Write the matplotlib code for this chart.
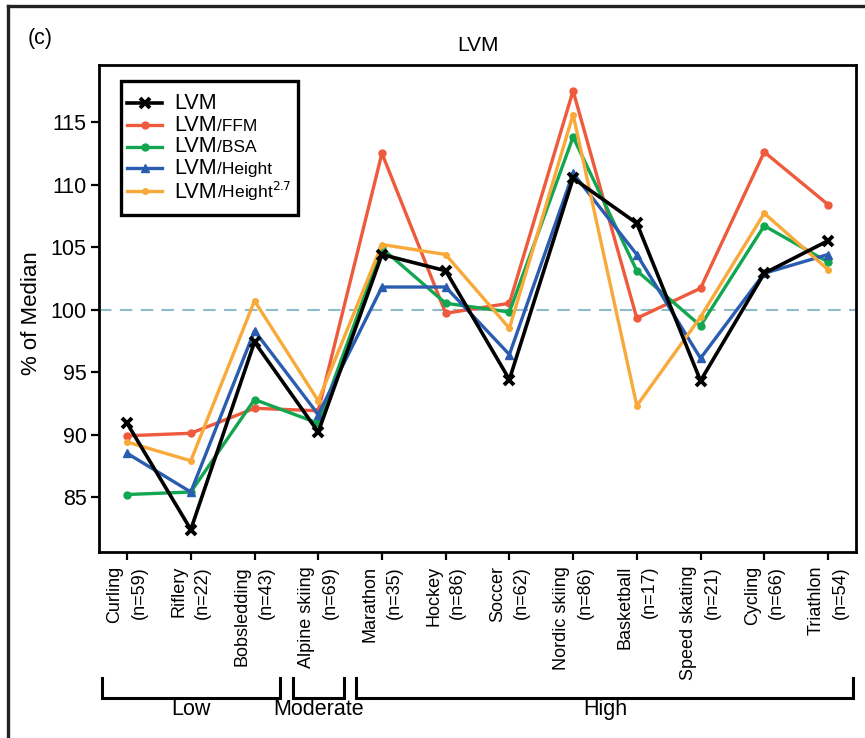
import numpy as np
import matplotlib
matplotlib.use("Agg")
import matplotlib.pyplot as plt
import matplotlib.transforms as mtransforms
from matplotlib.lines import Line2D
from matplotlib.offsetbox import AnchoredOffsetbox, HPacker, VPacker, TextArea, DrawingArea

plt.rcParams['font.family'] = ['Liberation Sans', 'DejaVu Sans']

# sports and sample sizes
sports = ["Curling", "Riflery", "Bobsledding", "Alpine skiing", "Marathon", "Hockey",
          "Soccer", "Nordic skiing", "Basketball", "Speed skating", "Cycling", "Triathlon"]
n_sizes = [59, 22, 43, 69, 35, 86, 62, 86, 17, 21, 66, 54]

# dynamic component groups
groups = ["Low", "Moderate", "High"]
group_counts = [3, 1, 8]

# % of median
lvm = [90.9, 82.4, 97.4, 90.2, 104.4, 103.1, 94.4, 110.5, 106.9, 94.3, 102.9, 105.5]
lvm_ffm = [89.9, 90.1, 92.1, 91.9, 112.5, 99.7, 100.5, 117.5, 99.3, 101.7, 112.6, 108.4]
lvm_bsa = [85.2, 85.4, 92.8, 90.9, 104.9, 100.5, 99.8, 113.8, 103.1, 98.7, 106.7, 103.8]
lvm_height = [88.5, 85.4, 98.3, 91.6, 101.8, 101.8, 96.4, 110.9, 104.4, 96.1, 102.9, 104.4]
lvm_height27 = [89.4, 87.9, 100.7, 92.7, 105.2, 104.4, 98.5, 115.6, 92.3, 99.4, 107.7, 103.2]

# (suffix, values, colour, marker, size)
series = [
    ("/FFM", lvm_ffm, "#ee5a3c", "o", 5),
    ("/BSA", lvm_bsa, "#13a651", "o", 5),
    ("/Height", lvm_height, "#2a5db0", "^", 6),
    ("/Height$^{2.7}$", lvm_height27, "#f9a93a", "o", 4),
]

fig = plt.figure(figsize=(8.65, 7.38), dpi=100)
ax = fig.add_axes([0.1145, 0.252, 0.8751, 0.6599])

x = np.arange(len(sports))

ax.axhline(100, color="#8fbccc", lw=1.5, ls=(0, (6, 4)), zorder=1)

handles = []
suffixes = [""]
h, = ax.plot(x, lvm, color="black", lw=2.6, marker="x", ms=7, mew=2.8, zorder=6)
handles.append(h)
for suf, vals, col, mk, ms in series:
    h, = ax.plot(x, vals, color=col, lw=2.4, marker=mk, ms=ms, zorder=3)
    handles.append(h)
    suffixes.append(suf)

ax.set_xlim(-0.44, 11.44)
ax.set_ylim(80.6, 119.56)
ax.set_yticks([85, 90, 95, 100, 105, 110, 115])
ax.tick_params(axis="y", labelsize=15.5, length=6, width=1.6, direction="out", pad=3)
ax.set_xticks(x)
ax.set_xticklabels([f"{s}\n(n={n})" for s, n in zip(sports, n_sizes)],
                   rotation=90, fontsize=13, multialignment="right", linespacing=1.55)
ax.tick_params(axis="x", length=6, width=1.6, direction="out", pad=4)
for sp in ax.spines.values():
    sp.set_linewidth(2.0)

ax.set_ylabel("% of Median", fontsize=16)
ax.yaxis.set_label_coords(-0.075, 0.49)
ax.set_title("LVM", fontsize=15, pad=10)
fig.text(0.032, 0.948, "(c)", fontsize=15.5, va="center", ha="left")

# legend built from offset boxes so the suffix can be smaller than "LVM"
rows = [DrawingArea(1, 3.5, 0, 0)]
for h, suf in zip(handles, suffixes):
    da = DrawingArea(25, 10, 0, 0)
    da.add_artist(Line2D([0, 12.5, 25], [5, 5, 5], color=h.get_color(),
                         lw=h.get_linewidth(), marker=h.get_marker(),
                         ms=h.get_markersize(), mew=h.get_markeredgewidth(),
                         markevery=[1]))
    parts = [TextArea("LVM", textprops=dict(fontsize=15.5))]
    if suf:
        parts.append(TextArea(suf, textprops=dict(fontsize=12.5)))
    txt = HPacker(children=parts, align="baseline", pad=0, sep=0)
    rows.append(HPacker(children=[da, txt], align="center", pad=0, sep=9))
rows.append(DrawingArea(1, 3.5, 0, 0))
box = VPacker(children=rows, align="left", pad=0, sep=0.5)
leg = AnchoredOffsetbox(loc="upper left", child=box, pad=0.45, borderpad=0,
                        frameon=True, bbox_to_anchor=(0.029, 0.967),
                        bbox_transform=ax.transAxes)
leg.patch.set_boxstyle("square", pad=0)
leg.patch.set_linewidth(2.4)
leg.patch.set_edgecolor("black")
leg.set_zorder(10)
ax.add_artist(leg)

# group brackets below the tick labels
trans = mtransforms.blended_transform_factory(ax.transData, ax.transAxes)
start = 0
for g, c in zip(groups, group_counts):
    x0 = start - 0.4
    x1 = start + c - 1 + 0.4
    ax.plot([x0, x0, x1, x1], [-0.259, -0.30, -0.30, -0.259], transform=trans,
            color="black", lw=2.2, clip_on=False, solid_joinstyle="miter")
    ax.text((x0 + x1) / 2, -0.324, g, transform=trans, ha="center", va="center",
            fontsize=15.5)
    start += c

# figure frame (top and left)
fig.add_artist(Line2D([0.0095, 1.0], [0.992, 0.992], color="#222222", lw=2.4,
                      transform=fig.transFigure))
fig.add_artist(Line2D([0.0095, 0.0095], [0.0, 0.992], color="#222222", lw=2.4,
                      transform=fig.transFigure))

fig.savefig("out.png", dpi=100)
